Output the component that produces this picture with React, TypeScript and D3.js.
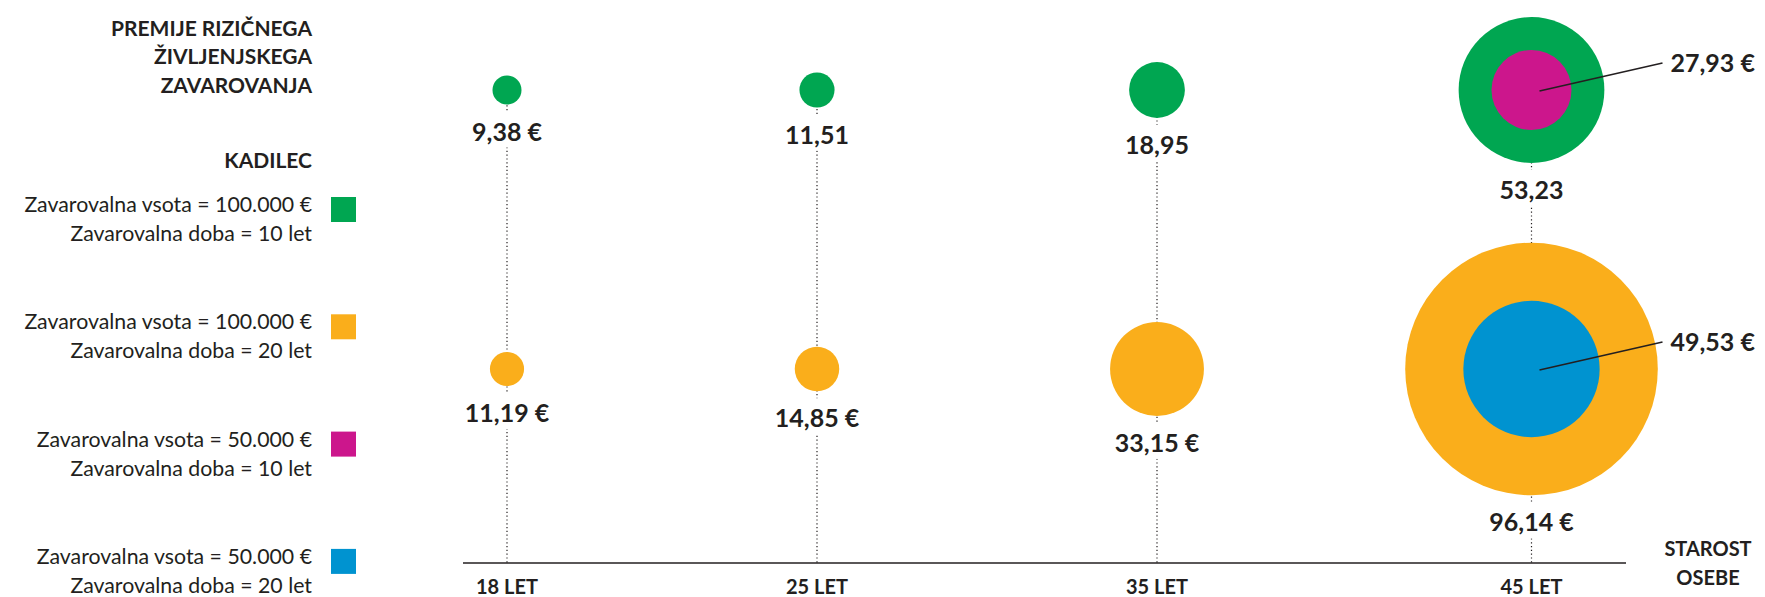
import { useEffect, useRef } from "react";
import * as d3 from "d3";

// Ages on the x axis
const ageYears = [18, 25, 35, 45];
const ageLabels = ["18 LET", "25 LET", "35 LET", "45 LET"];

// Monthly premiums (€) per insured sum / term
const premium100k10 = [9.38, 11.51, 18.95, 53.23];
const premium100k20 = [11.19, 14.85, 33.15, 96.14];
const premium50k10 = [null, null, null, 27.93];
const premium50k20 = [null, null, null, 49.53];

// Which outer labels carry the euro sign
const euro100k10 = [true, false, false, false];
const euro100k20 = [true, true, true, true];

// Legend
const legendSums = ["100.000 €", "100.000 €", "50.000 €", "50.000 €"];
const legendTerms = ["10 let", "20 let", "10 let", "20 let"];

const titleLines = ["PREMIJE RIZIČNEGA", "ŽIVLJENJSKEGA", "ZAVAROVANJA"];
const legendTitle = "KADILEC";
const axisTitle = ["STAROST", "OSEBE"];

const GREEN = "#00a651";
const ORANGE = "#faae1b";
const MAGENTA = "#cc168c";
const BLUE = "#0093d0";
const INK = "#231f20";
const FONT = "Lato, 'Noto Sans', sans-serif";

const W = 1765;
const H = 597;

export default function App() {
  const svgRef = useRef<SVGSVGElement>(null);

  useEffect(() => {
    document.body.style.margin = "0";
    if (!svgRef.current) return;
    const svg = d3.select(svgRef.current);
    svg.selectAll("*").remove();

    const x = d3.scaleLinear().domain(ageYears).range([507, 817, 1157, 1531.5]);
    const y = d3.scalePoint<string>().domain(["10", "20"]).range([90, 369]);
    const r = d3.scalePow().exponent(0.93).domain([0, 100]).range([0, 131]);
    const axisY = 563;

    const loc = d3.formatLocale({ decimal: ",", thousands: ".", grouping: [3], currency: ["", " €"] });
    const fmt = loc.format(".2f");

    // ---- title + legend
    const left = svg.append("g").attr("font-family", FONT).attr("fill", INK);
    left
      .selectAll("text.title")
      .data(titleLines)
      .join("text")
      .attr("class", "title")
      .attr("x", 312)
      .attr("y", (_d, i) => 36 + i * 28.4)
      .attr("text-anchor", "end")
      .attr("font-size", 21)
      .attr("font-weight", 700)
      .text((d) => d);

    left
      .append("text")
      .attr("x", 312)
      .attr("y", 168)
      .attr("text-anchor", "end")
      .attr("font-size", 21)
      .attr("font-weight", 700)
      .text(legendTitle);

    const legendColors = [GREEN, ORANGE, MAGENTA, BLUE];
    const lg = left
      .selectAll("g.legend")
      .data(legendSums)
      .join("g")
      .attr("class", "legend")
      .attr("transform", (_d, i) => `translate(0,${212 + i * 117.3})`);
    lg.append("text")
      .attr("x", 312)
      .attr("text-anchor", "end")
      .attr("font-size", 21.3)
      .text((d) => `Zavarovalna vsota = ${d}`);
    lg.append("text")
      .attr("x", 312)
      .attr("y", 29)
      .attr("text-anchor", "end")
      .attr("font-size", 21.3)
      .text((_d, i) => `Zavarovalna doba = ${legendTerms[i]}`);
    lg.append("rect")
      .attr("x", 331)
      .attr("y", -15)
      .attr("width", 25)
      .attr("height", 25)
      .attr("fill", (_d, i) => legendColors[i]);

    // ---- dotted guides
    const plot = svg.append("g").attr("font-family", FONT);
    plot
      .selectAll("line.guide")
      .data(ageYears)
      .join("line")
      .attr("class", "guide")
      .attr("x1", (d) => x(d))
      .attr("x2", (d) => x(d))
      .attr("y1", y("10")!)
      .attr("y2", axisY)
      .attr("stroke", INK)
      .attr("stroke-width", 1.2)
      .attr("stroke-dasharray", "1.2 2.6");

    // axis line
    plot
      .append("line")
      .attr("x1", 463)
      .attr("x2", 1626)
      .attr("y1", axisY)
      .attr("y2", axisY)
      .attr("stroke", INK)
      .attr("stroke-width", 1.5);

    // ---- bubbles
    const drawRow = (vals: (number | null)[], row: string, color: string) => {
      plot
        .append("g")
        .selectAll("circle")
        .data(vals.map((v, i) => ({ v, age: ageYears[i] })).filter((d) => d.v != null))
        .join("circle")
        .attr("cx", (d) => x(d.age))
        .attr("cy", y(row)!)
        .attr("r", (d) => r(d.v as number))
        .attr("fill", color);
    };
    drawRow(premium100k10, "10", GREEN);
    drawRow(premium100k20, "20", ORANGE);
    drawRow(premium50k10, "10", MAGENTA);
    drawRow(premium50k20, "20", BLUE);

    // ---- outer value labels (below bubble)
    const drawLabels = (vals: number[], euro: boolean[], row: string) => {
      const g = plot
        .append("g")
        .selectAll("g")
        .data(vals.map((v, i) => ({ v, age: ageYears[i], euro: euro[i] })))
        .join("g")
        .attr("transform", (d) => `translate(${x(d.age)},${y(row)! + r(d.v) + 36})`);
      g.append("rect")
        .attr("x", -8)
        .attr("y", -29)
        .attr("width", 16)
        .attr("height", 36)
        .attr("fill", "#fff");
      g.append("text")
        .attr("text-anchor", "middle")
        .attr("font-size", 25)
        .attr("font-weight", 700)
        .attr("fill", INK)
        .text((d) => fmt(d.v) + (d.euro ? " €" : ""));
    };
    drawLabels(premium100k10, euro100k10, "10");
    drawLabels(premium100k20, euro100k20, "20");

    // ---- inner value labels with leader lines
    const drawLeaders = (vals: (number | null)[], row: string) => {
      const data = vals.map((v, i) => ({ v, age: ageYears[i] })).filter((d) => d.v != null);
      const g = plot
        .append("g")
        .selectAll("g")
        .data(data)
        .join("g")
        .attr("transform", (d) => `translate(${x(d.age)},${y(row)!})`);
      g.append("line")
        .attr("x1", 8)
        .attr("y1", 1)
        .attr("x2", 131)
        .attr("y2", -27)
        .attr("stroke", INK)
        .attr("stroke-width", 1.5);
      g.append("text")
        .attr("x", 139)
        .attr("y", -18)
        .attr("font-size", 25)
        .attr("font-weight", 700)
        .attr("fill", INK)
        .text((d) => fmt(d.v as number) + " €");
    };
    drawLeaders(premium50k10, "10");
    drawLeaders(premium50k20, "20");

    // ---- x axis labels
    plot
      .selectAll("text.tick")
      .data(ageYears)
      .join("text")
      .attr("class", "tick")
      .attr("x", (d) => x(d))
      .attr("y", 594)
      .attr("text-anchor", "middle")
      .attr("font-size", 20)
      .attr("font-weight", 700)
      .attr("fill", INK)
      .text((_d, i) => ageLabels[i]);

    plot
      .selectAll("text.axis-title")
      .data(axisTitle)
      .join("text")
      .attr("class", "axis-title")
      .attr("x", 1708)
      .attr("y", (_d, i) => 556 + i * 29)
      .attr("text-anchor", "middle")
      .attr("font-size", 20)
      .attr("font-weight", 700)
      .attr("fill", INK)
      .text((d) => d);
  }, []);

  return <svg ref={svgRef} width={W} height={H} style={{ display: "block", background: "#fff" }} />;
}
